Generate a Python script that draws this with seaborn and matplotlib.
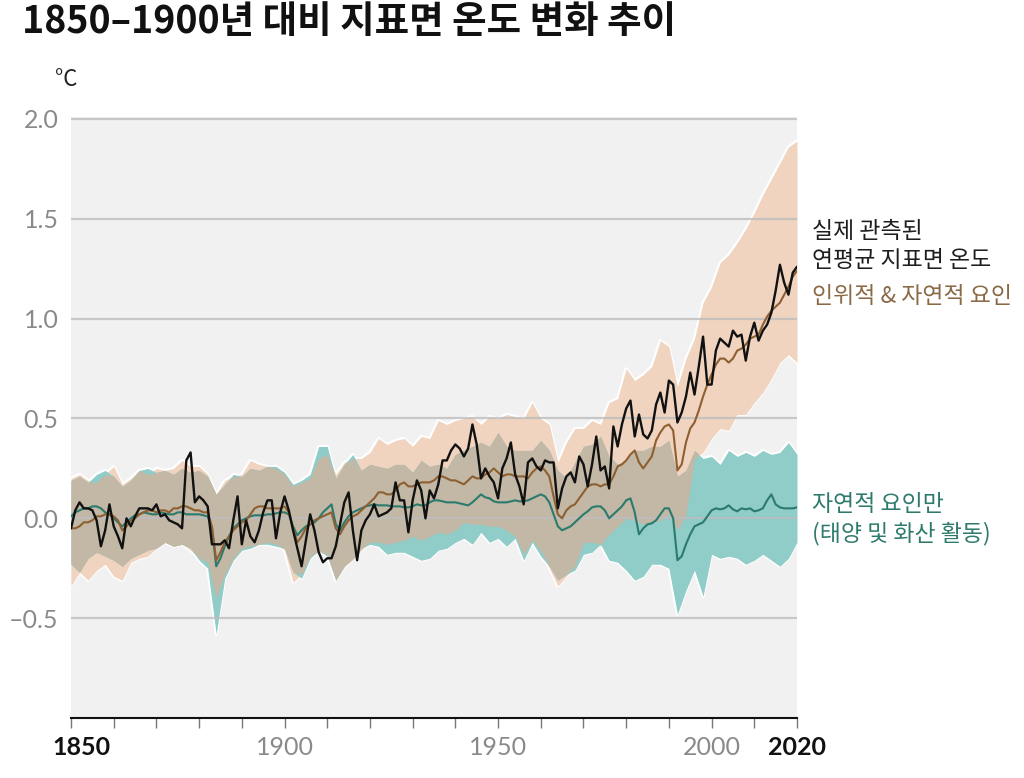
import numpy as np
import pandas as pd
import matplotlib
matplotlib.use('Agg')
import matplotlib.pyplot as plt
import matplotlib.transforms as mtransforms
import seaborn as sns

sns.set_theme(style='white')
plt.rcParams['font.family'] = ['Noto Sans CJK KR', 'DejaVu Sans']

# 연도 (관측 및 모의 평균은 매년, 범위는 2년 간격)
years = list(range(1850, 2021))
band_years = list(range(1850, 2021, 2))

# 실제 관측된 연평균 지표면 온도 (1850-1900 대비, °C)
observed = [
    -0.05, 0.04, 0.08, 0.05, 0.05, 0.04, -0.01, -0.14, -0.06, 0.07,
    -0.04, -0.09, -0.15, 0.00, -0.04, 0.01, 0.05, 0.05, 0.05, 0.04,
    0.07, 0.01, 0.02, -0.01, -0.02, -0.03, -0.05, 0.29, 0.33, 0.08,
    0.11, 0.09, 0.06, -0.13, -0.13, -0.13, -0.11, -0.15, -0.01, 0.11,
    -0.13, -0.01, -0.09, -0.12, -0.06, 0.03, 0.09, 0.09, -0.10, 0.03,
    0.11, 0.04, -0.06, -0.15, -0.24, -0.11, 0.02, -0.06, -0.17, -0.22,
    -0.20, -0.20, -0.14, -0.03, 0.08, 0.13, -0.06, -0.21, -0.06, -0.01,
    0.02, 0.07, 0.01, 0.02, 0.03, 0.05, 0.18, 0.09, 0.09, -0.07,
    0.09, 0.19, 0.14, 0.00, 0.14, 0.10, 0.17, 0.29, 0.29, 0.34,
    0.37, 0.35, 0.31, 0.35, 0.47, 0.37, 0.20, 0.25, 0.21, 0.18,
    0.10, 0.25, 0.30, 0.38, 0.22, 0.16, 0.07, 0.28, 0.30, 0.26,
    0.24, 0.29, 0.28, 0.28, 0.05, 0.15, 0.21, 0.23, 0.18, 0.31,
    0.27, 0.16, 0.27, 0.41, 0.24, 0.26, 0.15, 0.46, 0.36, 0.47,
    0.55, 0.59, 0.41, 0.52, 0.42, 0.40, 0.44, 0.57, 0.63, 0.53,
    0.69, 0.67, 0.48, 0.53, 0.61, 0.73, 0.62, 0.76, 0.91, 0.67,
    0.67, 0.84, 0.90, 0.88, 0.86, 0.94, 0.91, 0.92, 0.79, 0.91,
    0.98, 0.89, 0.94, 0.97, 1.03, 1.14, 1.27, 1.18, 1.12, 1.23,
    1.26,
]

# 인위적 & 자연적 요인 모의 평균
human_natural = [
    -0.05, -0.05, -0.04, -0.02, -0.02, -0.01, 0.01, 0.01, 0.02, 0.02,
    0.01, -0.01, -0.06, -0.04, -0.01, 0.00, 0.02, 0.03, 0.04, 0.04,
    0.03, 0.04, 0.04, 0.03, 0.05, 0.05, 0.06, 0.06, 0.05, 0.04,
    0.04, 0.03, 0.03, -0.04, -0.21, -0.17, -0.12, -0.09, -0.06, -0.04,
    -0.02, -0.01, 0.02, 0.05, 0.06, 0.06, 0.05, 0.05, 0.05, 0.05,
    0.06, 0.03, -0.05, -0.12, -0.09, -0.05, -0.03, -0.01, 0.00, 0.01,
    0.02, 0.03, -0.05, -0.08, -0.04, -0.01, 0.01, 0.02, 0.04, 0.06,
    0.08, 0.10, 0.13, 0.13, 0.12, 0.12, 0.14, 0.17, 0.18, 0.16,
    0.16, 0.17, 0.18, 0.18, 0.18, 0.19, 0.21, 0.21, 0.20, 0.19,
    0.19, 0.18, 0.17, 0.19, 0.21, 0.20, 0.20, 0.22, 0.23, 0.25,
    0.23, 0.21, 0.22, 0.22, 0.21, 0.21, 0.21, 0.20, 0.23, 0.25,
    0.26, 0.24, 0.21, 0.11, 0.02, 0.00, 0.04, 0.06, 0.07, 0.10,
    0.13, 0.16, 0.17, 0.17, 0.16, 0.17, 0.17, 0.21, 0.26, 0.27,
    0.29, 0.32, 0.34, 0.28, 0.25, 0.28, 0.31, 0.39, 0.43, 0.46,
    0.47, 0.44, 0.24, 0.27, 0.38, 0.45, 0.48, 0.54, 0.61, 0.67,
    0.72, 0.77, 0.80, 0.80, 0.78, 0.80, 0.84, 0.85, 0.87, 0.90,
    0.91, 0.92, 0.97, 1.01, 1.04, 1.06, 1.08, 1.12, 1.16, 1.21,
    1.24,
]

# 자연적 요인만 모의 평균
natural_only = [
    0.01, 0.03, 0.04, 0.05, 0.05, 0.06, 0.06, 0.05, 0.03, 0.02,
    0.00, -0.02, -0.04, -0.02, 0.00, 0.015, 0.02, 0.03, 0.025, 0.02,
    0.02, 0.03, 0.025, 0.02, 0.02, 0.03, 0.03, 0.02, 0.02, 0.02,
    0.02, 0.015, 0.01, -0.05, -0.24, -0.20, -0.14, -0.09, -0.05, -0.03,
    -0.01, 0.00, 0.01, 0.015, 0.015, 0.015, 0.02, 0.02, 0.025, 0.03,
    0.03, 0.02, -0.04, -0.085, -0.06, -0.04, -0.03, -0.02, 0.00, 0.03,
    0.05, 0.07, -0.03, -0.06, -0.02, 0.01, 0.03, 0.04, 0.05, 0.06,
    0.065, 0.07, 0.065, 0.065, 0.065, 0.06, 0.06, 0.06, 0.055, 0.055,
    0.06, 0.07, 0.065, 0.065, 0.08, 0.09, 0.09, 0.085, 0.08, 0.08,
    0.08, 0.075, 0.07, 0.065, 0.08, 0.10, 0.12, 0.105, 0.10, 0.085,
    0.08, 0.08, 0.08, 0.085, 0.09, 0.085, 0.085, 0.09, 0.10, 0.11,
    0.12, 0.11, 0.08, 0.02, -0.04, -0.06, -0.05, -0.04, -0.02, 0.00,
    0.02, 0.035, 0.055, 0.06, 0.06, 0.04, 0.00, 0.02, 0.04, 0.06,
    0.09, 0.10, 0.03, -0.08, -0.05, -0.03, -0.025, -0.01, 0.02, 0.05,
    0.05, 0.00, -0.21, -0.19, -0.13, -0.08, -0.04, -0.03, -0.02, 0.01,
    0.04, 0.05, 0.045, 0.05, 0.065, 0.045, 0.035, 0.05, 0.045, 0.05,
    0.035, 0.04, 0.05, 0.09, 0.12, 0.07, 0.055, 0.05, 0.05, 0.05,
    0.055,
]

# 모의 범위 (2년 간격)
hn_hi = [
    0.20, 0.22, 0.19, 0.18, 0.22, 0.26, 0.17, 0.20, 0.24, 0.22,
    0.25, 0.24, 0.25, 0.29, 0.26, 0.26, 0.22, 0.12, 0.19, 0.21,
    0.22, 0.29, 0.27, 0.26, 0.25, 0.22, 0.16, 0.18, 0.20, 0.30,
    0.32, 0.22, 0.28, 0.30, 0.30, 0.33, 0.40, 0.37, 0.39, 0.40,
    0.36, 0.41, 0.40, 0.49, 0.47, 0.49, 0.50, 0.51, 0.47, 0.51,
    0.50, 0.52, 0.51, 0.50, 0.58, 0.50, 0.47, 0.28, 0.38, 0.45,
    0.45, 0.49, 0.47, 0.58, 0.60, 0.75, 0.69, 0.72, 0.76, 0.89,
    0.86, 0.66, 0.80, 0.90, 1.08, 1.16, 1.28, 1.32, 1.38, 1.45,
    1.53, 1.62, 1.70, 1.78, 1.86, 1.89,
]
hn_lo = [
    -0.34, -0.27, -0.31, -0.26, -0.23, -0.29, -0.31, -0.22, -0.20, -0.19,
    -0.15, -0.12, -0.14, -0.13, -0.16, -0.20, -0.22, -0.40, -0.28, -0.20,
    -0.15, -0.14, -0.13, -0.12, -0.13, -0.16, -0.32, -0.28, -0.19, -0.17,
    -0.18, -0.31, -0.24, -0.21, -0.16, -0.12, -0.12, -0.13, -0.12, -0.11,
    -0.09, -0.11, -0.09, -0.07, -0.08, -0.06, -0.02, -0.03, -0.03, -0.04,
    -0.04, -0.06, -0.09, -0.18, -0.11, -0.16, -0.25, -0.34, -0.29, -0.24,
    -0.12, -0.12, -0.14, -0.08, -0.04, 0.00, -0.01, -0.03, -0.02, -0.01,
    0.02, -0.06, 0.02, 0.30, 0.33, 0.40, 0.45, 0.44, 0.52, 0.52,
    0.58, 0.63, 0.70, 0.78, 0.82, 0.78,
]
nat_hi = [
    0.19, 0.21, 0.18, 0.22, 0.24, 0.21, 0.16, 0.19, 0.24, 0.25,
    0.23, 0.24, 0.22, 0.25, 0.23, 0.24, 0.21, 0.12, 0.17, 0.22,
    0.21, 0.25, 0.24, 0.26, 0.26, 0.23, 0.17, 0.19, 0.22, 0.36,
    0.36, 0.20, 0.27, 0.32, 0.24, 0.27, 0.26, 0.25, 0.27, 0.27,
    0.23, 0.29, 0.26, 0.27, 0.25, 0.32, 0.34, 0.36, 0.38, 0.36,
    0.43, 0.36, 0.34, 0.34, 0.34, 0.39, 0.34, 0.24, 0.20, 0.28,
    0.36, 0.37, 0.41, 0.31, 0.27, 0.29, 0.34, 0.34, 0.36, 0.36,
    0.39, 0.21, 0.24, 0.34, 0.30, 0.31, 0.27, 0.34, 0.31, 0.33,
    0.31, 0.34, 0.32, 0.33, 0.38, 0.32,
]
nat_lo = [
    -0.23, -0.27, -0.20, -0.17, -0.19, -0.21, -0.24, -0.20, -0.18, -0.16,
    -0.15, -0.12, -0.14, -0.13, -0.15, -0.21, -0.25, -0.58, -0.30, -0.21,
    -0.16, -0.15, -0.13, -0.13, -0.14, -0.15, -0.27, -0.30, -0.20, -0.16,
    -0.19, -0.31, -0.24, -0.20, -0.15, -0.13, -0.14, -0.18, -0.17, -0.17,
    -0.19, -0.21, -0.20, -0.16, -0.15, -0.12, -0.10, -0.13, -0.07, -0.12,
    -0.10, -0.14, -0.10, -0.21, -0.12, -0.19, -0.24, -0.31, -0.28, -0.26,
    -0.18, -0.17, -0.13, -0.21, -0.22, -0.26, -0.31, -0.29, -0.23, -0.23,
    -0.25, -0.48, -0.36, -0.26, -0.39, -0.18, -0.20, -0.19, -0.20, -0.23,
    -0.21, -0.18, -0.21, -0.24, -0.20, -0.12,
]

ytick_vals = [-0.5, 0.0, 0.5, 1.0, 1.5, 2.0]
ytick_labels = ['–0.5', '0.0', '0.5', '1.0', '1.5', '2.0']
xtick_vals = list(range(1850, 2021, 10))
xtick_shown = {1850: '1850', 1900: '1900', 1950: '1950', 2000: '2000', 2020: '2020'}

df = pd.DataFrame({'year': years, 'observed': observed,
                   'human_natural': human_natural, 'natural_only': natural_only})
bands = pd.DataFrame({'year': band_years, 'hn_hi': hn_hi, 'hn_lo': hn_lo,
                      'nat_hi': nat_hi, 'nat_lo': nat_lo})

PEACH = '#f0d4c0'
TEAL_BAND = '#90ccc8'
OVERLAP = '#c2b8a5'
BROWN = '#8e5f31'
TEAL = '#2b7a6d'

fig = plt.figure(figsize=(10.24, 7.78), dpi=100)
ax = fig.add_axes([71 / 1024, 1 - 718 / 778, (797 - 71) / 1024, (718 - 117) / 778])
ax.set_facecolor('#f1f1f1')

# 범위 테두리 (흰색), 그 위에 채움
for col in ['hn_hi', 'hn_lo', 'nat_hi', 'nat_lo']:
    ax.plot(bands['year'], bands[col], color='white', lw=2.2, zorder=0.8)
ax.fill_between(bands['year'], bands['hn_lo'], bands['hn_hi'], color=PEACH, lw=0, zorder=1)
ax.fill_between(bands['year'], bands['nat_lo'], bands['nat_hi'], color=TEAL_BAND, lw=0, zorder=1.05)
ov_lo = np.maximum(bands['hn_lo'], bands['nat_lo'])
ov_hi = np.minimum(bands['hn_hi'], bands['nat_hi'])
ax.fill_between(bands['year'], ov_lo, ov_hi, where=ov_hi > ov_lo, interpolate=True,
                color=OVERLAP, lw=0, zorder=1.1)

sns.lineplot(data=df, x='year', y='natural_only', color=TEAL, lw=1.5, ax=ax, zorder=3)
sns.lineplot(data=df, x='year', y='human_natural', color=BROWN, lw=1.5, ax=ax, zorder=3.1)
sns.lineplot(data=df, x='year', y='observed', color='#111111', lw=1.7, ax=ax, zorder=3.2)

ax.set_xlim(1850, 2020)
ax.set_ylim(-1.0, 2.01)
ax.set_xlabel('')
ax.set_ylabel('')

ax.set_axisbelow('line')
ax.yaxis.grid(True, color='#bdbdbd', lw=1.6, alpha=0.8)
ax.xaxis.grid(False)

for side in ['left', 'top', 'right']:
    ax.spines[side].set_visible(False)
ax.spines['bottom'].set_color('#111111')
ax.spines['bottom'].set_linewidth(1.5)

ax.set_yticks(ytick_vals)
ax.set_yticklabels(ytick_labels)
ax.tick_params(axis='y', length=0, pad=9, labelsize=18, labelcolor='#8a8a8a')
for lab in ax.get_yticklabels():
    lab.set_fontfamily('Lato')

ax.set_xticks(xtick_vals)
ax.set_xticklabels([xtick_shown.get(v, '') for v in xtick_vals])
ax.tick_params(axis='x', direction='out', length=7, width=1, color='#777777',
               bottom=True, pad=6, labelsize=18, labelcolor='#8a8a8a')
shift_right = mtransforms.ScaledTranslation(10 / 100, 0, fig.dpi_scale_trans)
for lab in ax.get_xticklabels():
    lab.set_fontfamily('Lato')
    if lab.get_text() in ('1850', '2020'):
        lab.set_fontweight('bold')
        lab.set_color('#111111')
    if lab.get_text() == '1850':
        lab.set_transform(lab.get_transform() + shift_right)

fig.text(22 / 1024, 1 - 2 / 778, '1850–1900년 대비 지표면 온도 변화 추이',
         fontsize=27, fontweight='bold', color='#111111', va='top', ha='left')
fig.text(55 / 1024, 1 - 80 / 778, '°C', fontsize=16, color='#222222', va='center', ha='left')

fig.text(812 / 1024, 1 - 246 / 778, '실제 관측된\n연평균 지표면 온도', fontsize=16.5,
         color='#1e1e1e', va='center', ha='left', linespacing=1.3)
fig.text(812 / 1024, 1 - 297 / 778, '인위적 & 자연적 요인', fontsize=16.5,
         color='#8a6945', va='center', ha='left')
fig.text(812 / 1024, 1 - 519 / 778, '자연적 요인만\n(태양 및 화산 활동)', fontsize=16.5,
         color='#2e7a6c', va='center', ha='left', linespacing=1.3)

fig.savefig('out.png', dpi=100, facecolor='white')
